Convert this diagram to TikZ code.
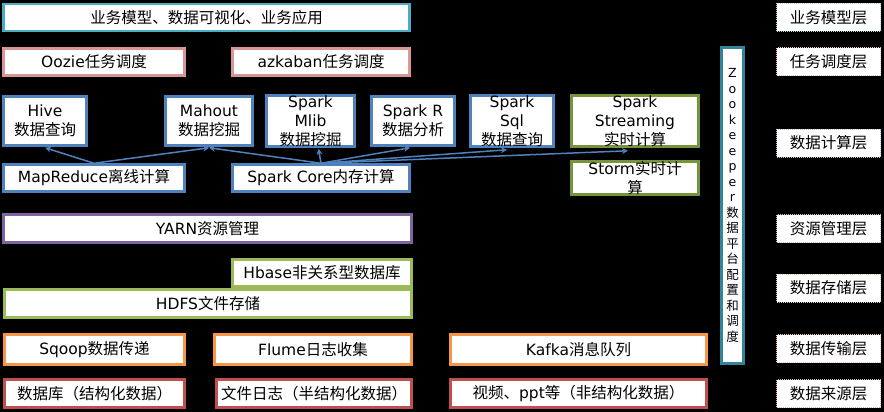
\documentclass[tikz,border=0pt]{standalone}
\usepackage{fontspec}
\setmainfont{DejaVu Sans}
\newfontfamily\cj{Noto Sans CJK SC}
\newcommand\zh[1]{{\cj #1}}
\usetikzlibrary{arrows.meta}
\definecolor{cTop}{HTML}{4BACC6}
\definecolor{cTask}{HTML}{D99694}
\definecolor{cBlue}{HTML}{4F81BD}
\definecolor{cOlive}{HTML}{77933C}
\definecolor{cYarn}{HTML}{8064A2}
\definecolor{cGreen}{HTML}{9BBB59}
\definecolor{cOrange}{HTML}{F79646}
\definecolor{cRed}{HTML}{C0504D}
\definecolor{cZk}{HTML}{31849B}
\tikzset{
  box/.style={draw, fill=white, line width=2.5pt, inner sep=0pt, align=center, text=black,
    font=\fontsize{15.5}{19}\selectfont},
  lbl/.style={draw, densely dotted, line width=1pt, fill=white, inner sep=0pt, align=center,
    text=black, minimum width=104, minimum height=28, font=\fontsize{15.5}{19}\selectfont},
  link/.style={draw=cBlue, line width=1.5pt, -{Stealth[length=6pt,width=6pt]}}
}
\begin{document}
\begin{tikzpicture}[x=1pt,y=-1pt]
\fill[black] (0,0) rectangle (884,412);
\useasboundingbox (0,0) rectangle (884,412);
% top layers
\node[box, draw=cTop, minimum width=406, minimum height=27] (app) at (206.5,17.5) {\zh{业务模型、数据可视化、业务应用}};
\node[box, draw=cTask, minimum width=181, minimum height=27] (oozie) at (94,62) {Oozie\zh{任务调度}};
\node[box, draw=cTask, minimum width=177, minimum height=27] (azk) at (321,62) {azkaban\zh{任务调度}};
% compute
\node[box, draw=cBlue, minimum width=83, minimum height=49] (hive) at (45,121) {Hive\\\zh{数据查询}};
\node[box, draw=cBlue, minimum width=87, minimum height=49] (mahout) at (209,121) {Mahout\\\zh{数据挖掘}};
\node[box, draw=cBlue, minimum width=88, minimum height=49] (mlib) at (310.5,121) {Spark\\Mlib\\\zh{数据挖掘}};
\node[box, draw=cBlue, minimum width=83, minimum height=49] (sparkr) at (413,121) {Spark R\\\zh{数据分析}};
\node[box, draw=cBlue, minimum width=83, minimum height=49] (sql) at (512,121) {Spark\\Sql\\\zh{数据查询}};
\node[box, draw=cOlive, minimum width=127, minimum height=49] (stream) at (635,121) {Spark\\Streaming\\\zh{实时计算}};
\node[box, draw=cBlue, minimum width=181, minimum height=27] (mr) at (94,178) {MapReduce\zh{离线计算}};
\node[box, draw=cBlue, minimum width=177, minimum height=27] (core) at (321,178) {Spark Core\zh{内存计算}};
\node[box, draw=cOlive, minimum width=127, minimum height=27] (storm) at (635,178) {Storm\zh{实时计}\\\zh{算}};
% resource / storage
\node[box, draw=cYarn, minimum width=408, minimum height=28] (yarn) at (207.5,228.5) {YARN\zh{资源管理}};
\node[box, draw=cGreen, minimum width=179, minimum height=27] (hbase) at (322,273) {Hbase\zh{非关系型数据库}};
\node[box, draw=cGreen, minimum width=407, minimum height=28] (hdfs) at (208,303.5) {HDFS\zh{文件存储}};
% transport
\node[box, draw=cOrange, minimum width=180, minimum height=30] (sqoop) at (94.5,349.5) {Sqoop\zh{数据传递}};
\node[box, draw=cOrange, minimum width=197, minimum height=30] (flume) at (313,349.5) {Flume\zh{日志收集}};
\node[box, draw=cOrange, minimum width=256, minimum height=30] (kafka) at (578.5,349.5) {Kafka\zh{消息队列}};
% sources
\node[box, draw=cRed, minimum width=180, minimum height=28] (db) at (94.5,393.5) {\zh{数据库（结构化数据）}};
\node[box, draw=cRed, minimum width=195, minimum height=28] (file) at (314,393.5) {\zh{文件日志（半结构化数据）}};
\node[box, draw=cRed, minimum width=256, minimum height=28] (video) at (578.5,393.5) {\zh{视频、}ppt\zh{等（非结构化数据）}};
% zookeeper
\node[box, draw=cZk, minimum width=22, minimum height=316, font=\fontsize{12.5}{15.5}\selectfont] (zk) at (732.5,205.5)
  {Z\\o\\o\\k\\e\\e\\p\\e\\r\\\zh{数}\\\zh{据}\\\zh{平}\\\zh{台}\\\zh{配}\\\zh{置}\\\zh{和}\\\zh{调}\\\zh{度}};
% layer labels
\node[lbl, draw=cTop!45] (l1) at (828.5,17.5) {\zh{业务模型层}};
\node[lbl, draw=cTask!55] (l2) at (828.5,62) {\zh{任务调度层}};
\node[lbl, draw=cBlue!45] (l3) at (828.5,143) {\zh{数据计算层}};
\node[lbl, draw=cYarn!45] (l4) at (828.5,228.5) {\zh{资源管理层}};
\node[lbl, draw=cGreen!50] (l5) at (828.5,288) {\zh{数据存储层}};
\node[lbl, draw=cOrange!50] (l6) at (828.5,348.5) {\zh{数据传输层}};
\node[lbl, draw=cRed!45] (l7) at (828.5,393.5) {\zh{数据来源层}};
% connectors
\draw[link] (mr.north) -- ([yshift=-1]hive.south);
\draw[link] (mr.north) -- ([yshift=-1]mahout.south);
\draw[link] (core.north) -- ([yshift=-1]mahout.south);
\draw[link] (core.north) -- ([xshift=8,yshift=-1]mlib.south);
\draw[link] (core.north) -- ([xshift=-3,yshift=-1]sparkr.south);
\draw[link] (core.north) -- ([xshift=-5,yshift=-2]sql.south);
\draw[link] (core.north) -- ([xshift=-7,yshift=-3]stream.south);
\end{tikzpicture}
\end{document}
